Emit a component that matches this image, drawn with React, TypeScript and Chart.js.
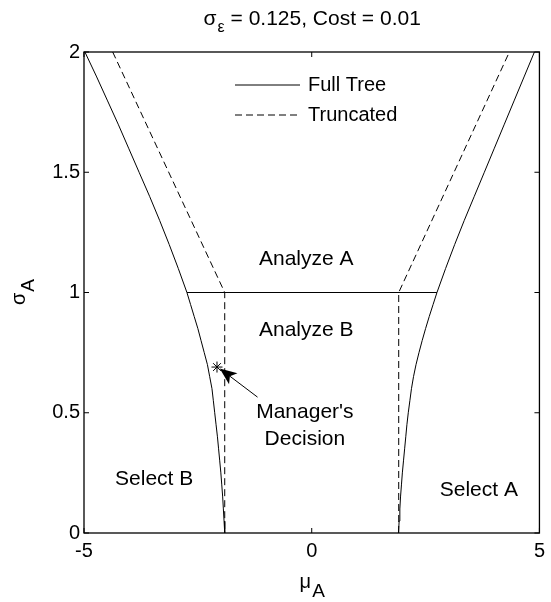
import React, { useEffect, useRef } from 'react';
import { Chart, registerables } from 'chart.js';

Chart.register(...registerables);

const FONT_FAMILY = '"Liberation Sans", Arial, Helvetica, sans-serif';
const FS = 20;
const RFS = 21;

// axis ranges and tick labels
const xTickValues = [-5, 0, 5];
const yTickValues = [0, 0.5, 1, 1.5, 2];

// Full tree decision boundaries
const fullLeftX = [-4.98, -4.73, -4.49, -4.25, -4.02, -3.79, -3.56, -3.34, -3.13, -2.93, -2.74, -2.66, -2.58, -2.5, -2.43, -2.36, -2.29, -2.24, -2.19, -2.16, -2.13, -2.1, -2.07, -2.045, -2.02, -1.995, -1.975, -1.955, -1.94, -1.925, -1.91];
const fullLeftY = [2, 1.9, 1.8, 1.7, 1.6, 1.5, 1.4, 1.3, 1.2, 1.1, 1, 0.95, 0.9, 0.85, 0.8, 0.75, 0.7, 0.65, 0.6, 0.55, 0.5, 0.45, 0.4, 0.35, 0.3, 0.25, 0.2, 0.15, 0.1, 0.05, 0];
const fullRightX = [1.905, 1.92, 1.935, 1.95, 1.97, 1.99, 2.015, 2.04, 2.065, 2.09, 2.12, 2.155, 2.19, 2.235, 2.29, 2.355, 2.425, 2.5, 2.58, 2.665, 2.75, 2.94, 3.14, 3.35, 3.57, 3.79, 4.01, 4.23, 4.45, 4.67, 4.89];
const fullRightY = [0, 0.05, 0.1, 0.15, 0.2, 0.25, 0.3, 0.35, 0.4, 0.45, 0.5, 0.55, 0.6, 0.65, 0.7, 0.75, 0.8, 0.85, 0.9, 0.95, 1, 1.1, 1.2, 1.3, 1.4, 1.5, 1.6, 1.7, 1.8, 1.9, 2];
const fullMidX = [-2.74, 2.75];
const fullMidY = [1, 1];

// Truncated tree boundaries
const truncLeftX = [-4.37, -1.91, -1.91];
const truncLeftY = [2, 1, 0];
const truncRightX = [1.91, 1.91, 4.34];
const truncRightY = [0, 1, 2];

// Manager's decision
const decisionX = [-2.08];
const decisionY = [0.69];

// annotations (data coordinates)
const regionText = ['Analyze A', 'Analyze B', "Manager's", 'Decision', 'Select B', 'Select A'];
const regionX = [-0.12, -0.12, -0.15, -0.15, -3.46, 3.67];
const regionY = [1.14, 0.844, 0.503, 0.39, 0.223, 0.178];
const arrowFrom = [-1.19, 0.565];
const arrowTo = [-2.02, 0.684];

const legendLabels = ['Full Tree', 'Truncated'];
const DASH = [7, 4];

const pts = (xs: number[], ys: number[]) => xs.map((x, i) => ({ x, y: ys[i] }));

const lineDs = (label: string, xs: number[], ys: number[], dashed: boolean) => ({
  label,
  data: pts(xs, ys),
  showLine: true,
  borderColor: '#000',
  backgroundColor: '#000',
  borderWidth: 1,
  borderDash: dashed ? DASH : [],
  pointRadius: 0,
  fill: false,
  tension: 0,
});

const font = (size: number) => `${size}px ${FONT_FAMILY}`;

const decor = {
  id: 'decor',
  afterDraw(chart: any) {
    const { ctx, chartArea: a, scales } = chart;
    const xs = scales.x;
    const ys = scales.y;
    ctx.save();
    ctx.strokeStyle = '#000';
    ctx.fillStyle = '#000';

    // frame
    ctx.lineWidth = 1.3;
    ctx.setLineDash([]);
    ctx.strokeRect(a.left, a.top, a.right - a.left, a.bottom - a.top);

    // inward ticks
    const tl = 5;
    ctx.lineWidth = 1;
    ctx.beginPath();
    xTickValues.forEach((v) => {
      const px = xs.getPixelForValue(v);
      ctx.moveTo(px, a.bottom);
      ctx.lineTo(px, a.bottom - tl);
      ctx.moveTo(px, a.top);
      ctx.lineTo(px, a.top + tl);
    });
    yTickValues.forEach((v) => {
      const py = ys.getPixelForValue(v);
      ctx.moveTo(a.left, py);
      ctx.lineTo(a.left + tl, py);
      ctx.moveTo(a.right, py);
      ctx.lineTo(a.right - tl, py);
    });
    ctx.stroke();

    // legend
    const legX0 = 235, legX1 = 300, legTX = 308;
    const legY = [85, 115];
    legendLabels.forEach((lab, i) => {
      ctx.lineWidth = 1;
      ctx.setLineDash(i === 1 ? DASH : []);
      ctx.beginPath();
      ctx.moveTo(legX0, legY[i]);
      ctx.lineTo(legX1, legY[i]);
      ctx.stroke();
      ctx.setLineDash([]);
      ctx.font = font(FS);
      ctx.textAlign = 'left';
      ctx.textBaseline = 'middle';
      ctx.fillText(lab, legTX, legY[i]);
    });

    // region texts
    ctx.font = font(RFS);
    ctx.textAlign = 'center';
    ctx.textBaseline = 'middle';
    regionText.forEach((t, i) => {
      ctx.fillText(t, xs.getPixelForValue(regionX[i]), ys.getPixelForValue(regionY[i]));
    });

    // arrow
    const tx = xs.getPixelForValue(arrowTo[0]);
    const ty = ys.getPixelForValue(arrowTo[1]);
    const fx = xs.getPixelForValue(arrowFrom[0]);
    const fy = ys.getPixelForValue(arrowFrom[1]);
    const dx = tx - fx, dy = ty - fy;
    const len = Math.hypot(dx, dy);
    const ux = dx / len, uy = dy / len;
    const nx = -uy, ny = ux;
    const L = 17, W = 7;
    const bx = tx - ux * L, by = ty - uy * L;
    const kx = tx - ux * L * 0.75, ky = ty - uy * L * 0.75;
    ctx.lineWidth = 1;
    ctx.beginPath();
    ctx.moveTo(fx, fy);
    ctx.lineTo(kx, ky);
    ctx.stroke();
    ctx.beginPath();
    ctx.moveTo(tx, ty);
    ctx.lineTo(bx + nx * W, by + ny * W);
    ctx.lineTo(kx, ky);
    ctx.lineTo(bx - nx * W, by - ny * W);
    ctx.closePath();
    ctx.fill();

    // title with subscript
    const cx = (a.left + a.right) / 2;
    const TFS = 21;
    const titleMain = '\u03c3';
    const titleSub = '\u03b5';
    const titleRest = ' = 0.125, Cost = 0.01';
    const subFS = 16;
    ctx.font = font(TFS);
    const w1 = ctx.measureText(titleMain).width;
    const w3 = ctx.measureText(titleRest).width;
    ctx.font = font(subFS);
    const w2 = ctx.measureText(titleSub).width;
    const tw = w1 + w2 + w3;
    const x0 = cx - tw / 2;
    const tBase = 25;
    ctx.textAlign = 'left';
    ctx.textBaseline = 'alphabetic';
    ctx.font = font(TFS);
    ctx.fillText(titleMain, x0, tBase);
    ctx.font = font(subFS);
    ctx.fillText(titleSub, x0 + w1 + 1, tBase + 7);
    ctx.font = font(TFS);
    ctx.fillText(titleRest, x0 + w1 + w2 + 1, tBase);

    // x axis label mu_A
    const xm = '\u03bc', xsb = 'A';
    ctx.font = font(FS);
    const mw = ctx.measureText(xm).width;
    ctx.font = font(19);
    const aw = ctx.measureText(xsb).width;
    const xl0 = cx - (mw + aw) / 2;
    ctx.font = font(FS);
    ctx.fillText(xm, xl0, 588);
    ctx.font = font(19);
    ctx.fillText(xsb, xl0 + mw + 1, 597);

    // y axis label sigma_A (rotated)
    const cy = (a.top + a.bottom) / 2;
    ctx.translate(25, cy);
    ctx.rotate(-Math.PI / 2);
    ctx.font = font(FS);
    const sw = ctx.measureText('\u03c3').width;
    ctx.font = font(19);
    const saw = ctx.measureText('A').width;
    const yl0 = -(sw + saw) / 2;
    ctx.font = font(FS);
    ctx.fillText('\u03c3', yl0, 0);
    ctx.font = font(19);
    ctx.fillText('A', yl0 + sw + 1, 9);

    ctx.restore();
  },
};

export default function App() {
  const ref = useRef<HTMLCanvasElement>(null);
  useEffect(() => {
    const canvas = ref.current;
    if (!canvas) return;
    const chart = new Chart(canvas, {
      type: 'scatter',
      data: {
        datasets: [
          lineDs('Full Tree', fullLeftX, fullLeftY, false),
          lineDs('Full Tree (right)', fullRightX, fullRightY, false),
          lineDs('Full Tree (mid)', fullMidX, fullMidY, false),
          lineDs('Truncated', truncLeftX, truncLeftY, true),
          lineDs('Truncated (right)', truncRightX, truncRightY, true),
          {
            label: "Manager's Decision",
            data: pts(decisionX, decisionY),
            showLine: false,
            pointStyle: 'star',
            pointRadius: 5.5,
            borderColor: '#000',
            backgroundColor: '#000',
            borderWidth: 1,
          } as any,
        ],
      },
      options: {
        responsive: false,
        animation: false,
        layout: { padding: { top: 52, right: 6, left: 0, bottom: 0 } },
        plugins: {
          legend: { display: false },
          tooltip: { enabled: false },
          title: { display: false },
        },
        scales: {
          x: {
            type: 'linear',
            min: xTickValues[0],
            max: xTickValues[xTickValues.length - 1],
            afterBuildTicks: (s: any) => {
              s.ticks = xTickValues.map((v) => ({ value: v }));
            },
            afterFit: (s: any) => {
              s.height = 69;
            },
            ticks: {
              font: { family: FONT_FAMILY, size: FS },
              color: '#000',
              padding: 6,
              maxRotation: 0,
              autoSkip: false,
              callback: (v: any) => String(v),
            },
            grid: { display: false, drawTicks: false },
            border: { display: false },
          },
          y: {
            type: 'linear',
            min: yTickValues[0],
            max: yTickValues[yTickValues.length - 1],
            afterBuildTicks: (s: any) => {
              s.ticks = yTickValues.map((v) => ({ value: v }));
            },
            afterFit: (s: any) => {
              s.width = 84;
            },
            ticks: {
              font: { family: FONT_FAMILY, size: FS },
              color: '#000',
              padding: 4,
              autoSkip: false,
              callback: (v: any) => String(v),
            },
            grid: { display: false, drawTicks: false },
            border: { display: false },
          },
        },
      } as any,
      plugins: [decor],
    });
    return () => chart.destroy();
  }, []);
  return (
    <div style={{ position: 'absolute', left: 0, top: 0, width: 551, height: 602, background: '#fff' }}>
      <canvas ref={ref} width={551} height={602} style={{ display: 'block', width: 551, height: 602 }} />
    </div>
  );
}
